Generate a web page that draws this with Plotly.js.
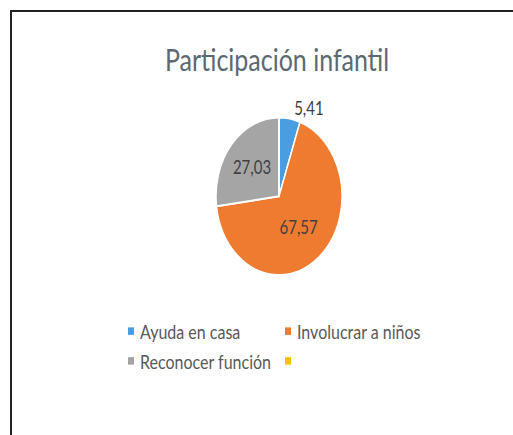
<!DOCTYPE html>
<html>
<head>
<meta charset="utf-8">
<script src="https://cdn.plot.ly/plotly-3.0.1.min.js"></script>
<style>
  html, body { margin: 0; padding: 0; background: #fff; }
  #wrap { position: relative; width: 513px; height: 435px; overflow: hidden; background: #fff; }
  #chart { position: absolute; left: 0; top: 0; width: 513px; height: 348px; transform: scaleY(1.25); transform-origin: 0 0; }
  #frame { position: absolute; left: 10px; top: 10px; right: -10px; bottom: -10px; border-top: 2px solid #222; border-left: 2px solid #222; pointer-events: none; }
</style>
</head>
<body>
<div id="wrap">
  <div id="chart"></div>
  <div id="frame"></div>
</div>
<script>
// Data
var titleText = 'Participación infantil';
var categories = ['Ayuda en casa', 'Involucrar a niños', 'Reconocer función', ' '];
var values = [5.41, 67.57, 27.03, 0];
var sliceColors = ['#4a9de0', '#ee7b30', '#a5a5a5', '#ffc000'];

var FONT = 'Lato, "Open Sans", sans-serif';

var trace = {
  type: 'pie',
  labels: categories,
  values: values,
  sort: false,
  direction: 'clockwise',
  rotation: 0,
  marker: { colors: sliceColors, line: { color: '#ffffff', width: 1.5 } },
  texttemplate: ['%{value:.2f}', '%{value:.2f}', '%{value:.2f}', ''],
  textposition: ['outside', 'inside', 'inside', 'inside'],
  insidetextorientation: 'horizontal',
  textfont: { family: FONT, size: 15, color: '#404040' },
  outsidetextfont: { family: FONT, size: 15, color: '#404040' },
  insidetextfont: { family: FONT, size: 15, color: '#404040' },
  domain: { x: [(216 - 100) / 333, (342 - 100) / 333], y: [1 - 220 / 348, 1 - 94 / 348] },
  hoverinfo: 'label+value',
  showlegend: true
};

var layout = {
  width: 513,
  height: 348,
  margin: { l: 100, r: 80, t: 0, b: 0 },
  paper_bgcolor: '#ffffff',
  plot_bgcolor: '#ffffff',
  separators: ',.',
  font: { family: FONT, color: '#595959' },
  title: {
    text: titleText,
    xref: 'container', yref: 'container',
    x: 277 / 513, xanchor: 'center',
    y: 1 - 48 / 348, yanchor: 'middle',
    font: { family: FONT, size: 25, color: '#5d6872' }
  },
  showlegend: true,
  legend: {
    orientation: 'h',
    x: 0, xanchor: 'left',
    y: 1 - 248 / 348, yanchor: 'top',
    entrywidthmode: 'pixels',
    entrywidth: 112,
    font: { family: FONT, size: 16, color: '#595959' },
    bgcolor: 'rgba(0,0,0,0)'
  }
};

Plotly.newPlot('chart', [trace], layout, { staticPlot: true, displayModeBar: false }).then(function (gd) {
  // Excel-style small legend swatches placed close to the text
  gd.querySelectorAll('.legend .legendpoints path').forEach(function (p) {
    p.setAttribute('d', 'M3,3V-3H-3V3Z');
    p.setAttribute('transform', 'translate(31,0)');
    p.style.strokeWidth = '0px';
  });
  // let long legend labels run past the fixed entry width
  gd.querySelectorAll('.legend [clip-path]').forEach(function (el) {
    el.removeAttribute('clip-path');
  });
});
</script>
</body>
</html>
